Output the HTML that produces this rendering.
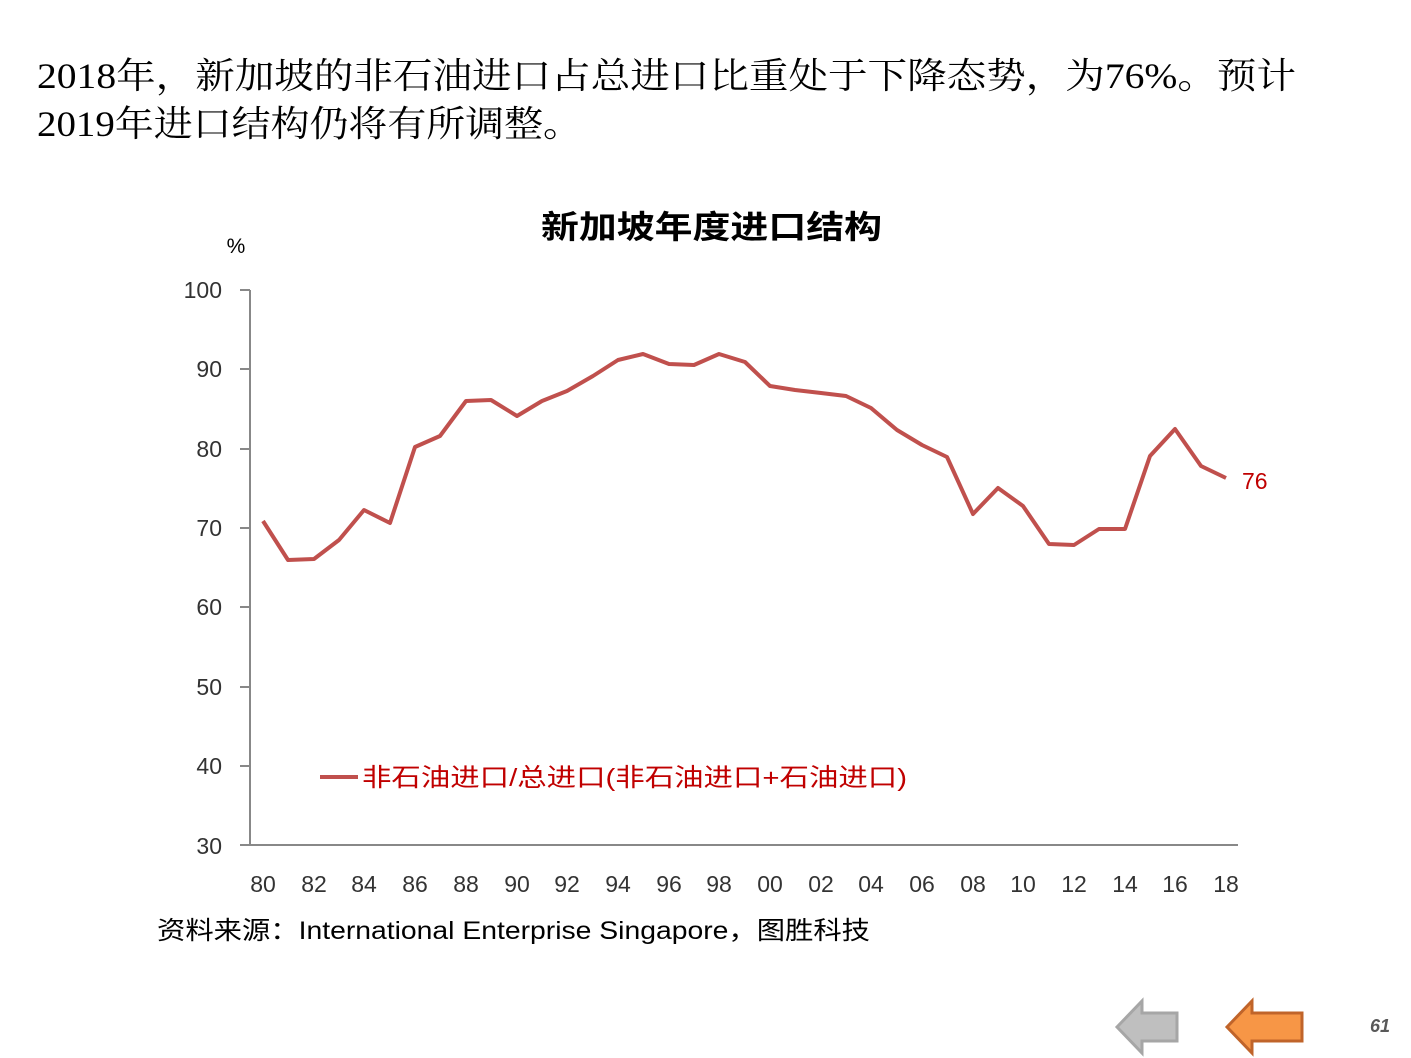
<!DOCTYPE html>
<html><head><meta charset="utf-8"><style>
body{margin:0;width:1411px;height:1058px;background:#fff;overflow:hidden;}
svg{display:block}
</style></head><body>
<svg width="1411" height="1058" xmlns="http://www.w3.org/2000/svg" font-family="'Liberation Sans','Noto Sans CJK SC',sans-serif">
<text x="37" y="88" font-size="36" font-family="'Liberation Serif','Noto Serif CJK SC',serif" fill="#000" textLength="1259" lengthAdjust="spacingAndGlyphs">2018年，新加坡的非石油进口占总进口比重处于下降态势，为76%。预计</text>
<text x="37" y="136" font-size="36" font-family="'Liberation Serif','Noto Serif CJK SC',serif" fill="#000" textLength="545" lengthAdjust="spacingAndGlyphs">2019年进口结构仍将有所调整。</text>
<text x="541" y="238" font-size="32" font-weight="bold" fill="#000" textLength="341" lengthAdjust="spacingAndGlyphs">新加坡年度进口结构</text>
<text x="236" y="253" font-size="21" text-anchor="middle" fill="#000">%</text>
<g font-size="23" fill="#333" text-anchor="end">
<text x="222" y="298">100</text><text x="222" y="377">90</text><text x="222" y="457">80</text><text x="222" y="536">70</text><text x="222" y="615">60</text><text x="222" y="695">50</text><text x="222" y="774">40</text><text x="222" y="854">30</text>
</g>
<g stroke="#888" stroke-width="2">
<line x1="250" y1="290" x2="250" y2="845"/><line x1="250" y1="845" x2="1238" y2="845"/>
<line x1="240" y1="290" x2="250" y2="290"/><line x1="240" y1="369" x2="250" y2="369"/><line x1="240" y1="449" x2="250" y2="449"/><line x1="240" y1="528" x2="250" y2="528"/><line x1="240" y1="607" x2="250" y2="607"/><line x1="240" y1="687" x2="250" y2="687"/><line x1="240" y1="766" x2="250" y2="766"/><line x1="240" y1="845" x2="250" y2="845"/>
</g>
<g font-size="23" fill="#333" text-anchor="middle">
<text x="263" y="892">80</text><text x="314" y="892">82</text><text x="364" y="892">84</text><text x="415" y="892">86</text><text x="466" y="892">88</text><text x="517" y="892">90</text><text x="567" y="892">92</text><text x="618" y="892">94</text><text x="669" y="892">96</text><text x="719" y="892">98</text><text x="770" y="892">00</text><text x="821" y="892">02</text><text x="871" y="892">04</text><text x="922" y="892">06</text><text x="973" y="892">08</text><text x="1023" y="892">10</text><text x="1074" y="892">12</text><text x="1125" y="892">14</text><text x="1175" y="892">16</text><text x="1226" y="892">18</text>
</g>
<polyline fill="none" stroke="#c0504d" stroke-width="4" stroke-linejoin="round" points="263,521 288,560 314,559 339,540 364,510 390,523 415,447 440,436 466,401 491,400 517,416 542,401 567,391 593,376 618,360 643,354 669,364 694,365 719,354 745,362 770,386 795,390 821,393 846,396 871,408 897,430 922,445 947,457 973,514 998,488 1023,506 1049,544 1074,545 1099,529 1125,529 1150,456 1175,429 1201,466 1226,478"/>
<text x="1242" y="489" font-size="23" fill="#c00000">76</text>
<line x1="320" y1="777" x2="358" y2="777" stroke="#c0504d" stroke-width="4"/>
<text x="362" y="786" font-size="25" fill="#c00000" textLength="545" lengthAdjust="spacingAndGlyphs">非石油进口/总进口(非石油进口+石油进口)</text>
<text x="157" y="939" font-size="25" fill="#000" textLength="713" lengthAdjust="spacingAndGlyphs">资料来源：International  Enterprise  Singapore，图胜科技</text>
<polygon points="1117,1027 1142,1001 1142,1013 1177,1013 1177,1041 1142,1041 1142,1053" fill="#bfbfbf" stroke="#a6a6a6" stroke-width="3"/>
<polygon points="1227,1027 1252,1001 1252,1013 1302,1013 1302,1041 1252,1041 1252,1053" fill="#f79646" stroke="#c0642a" stroke-width="3"/>
<text x="1370" y="1032" font-size="18" font-weight="bold" font-style="italic" fill="#595959">61</text>
</svg>
</body></html>
